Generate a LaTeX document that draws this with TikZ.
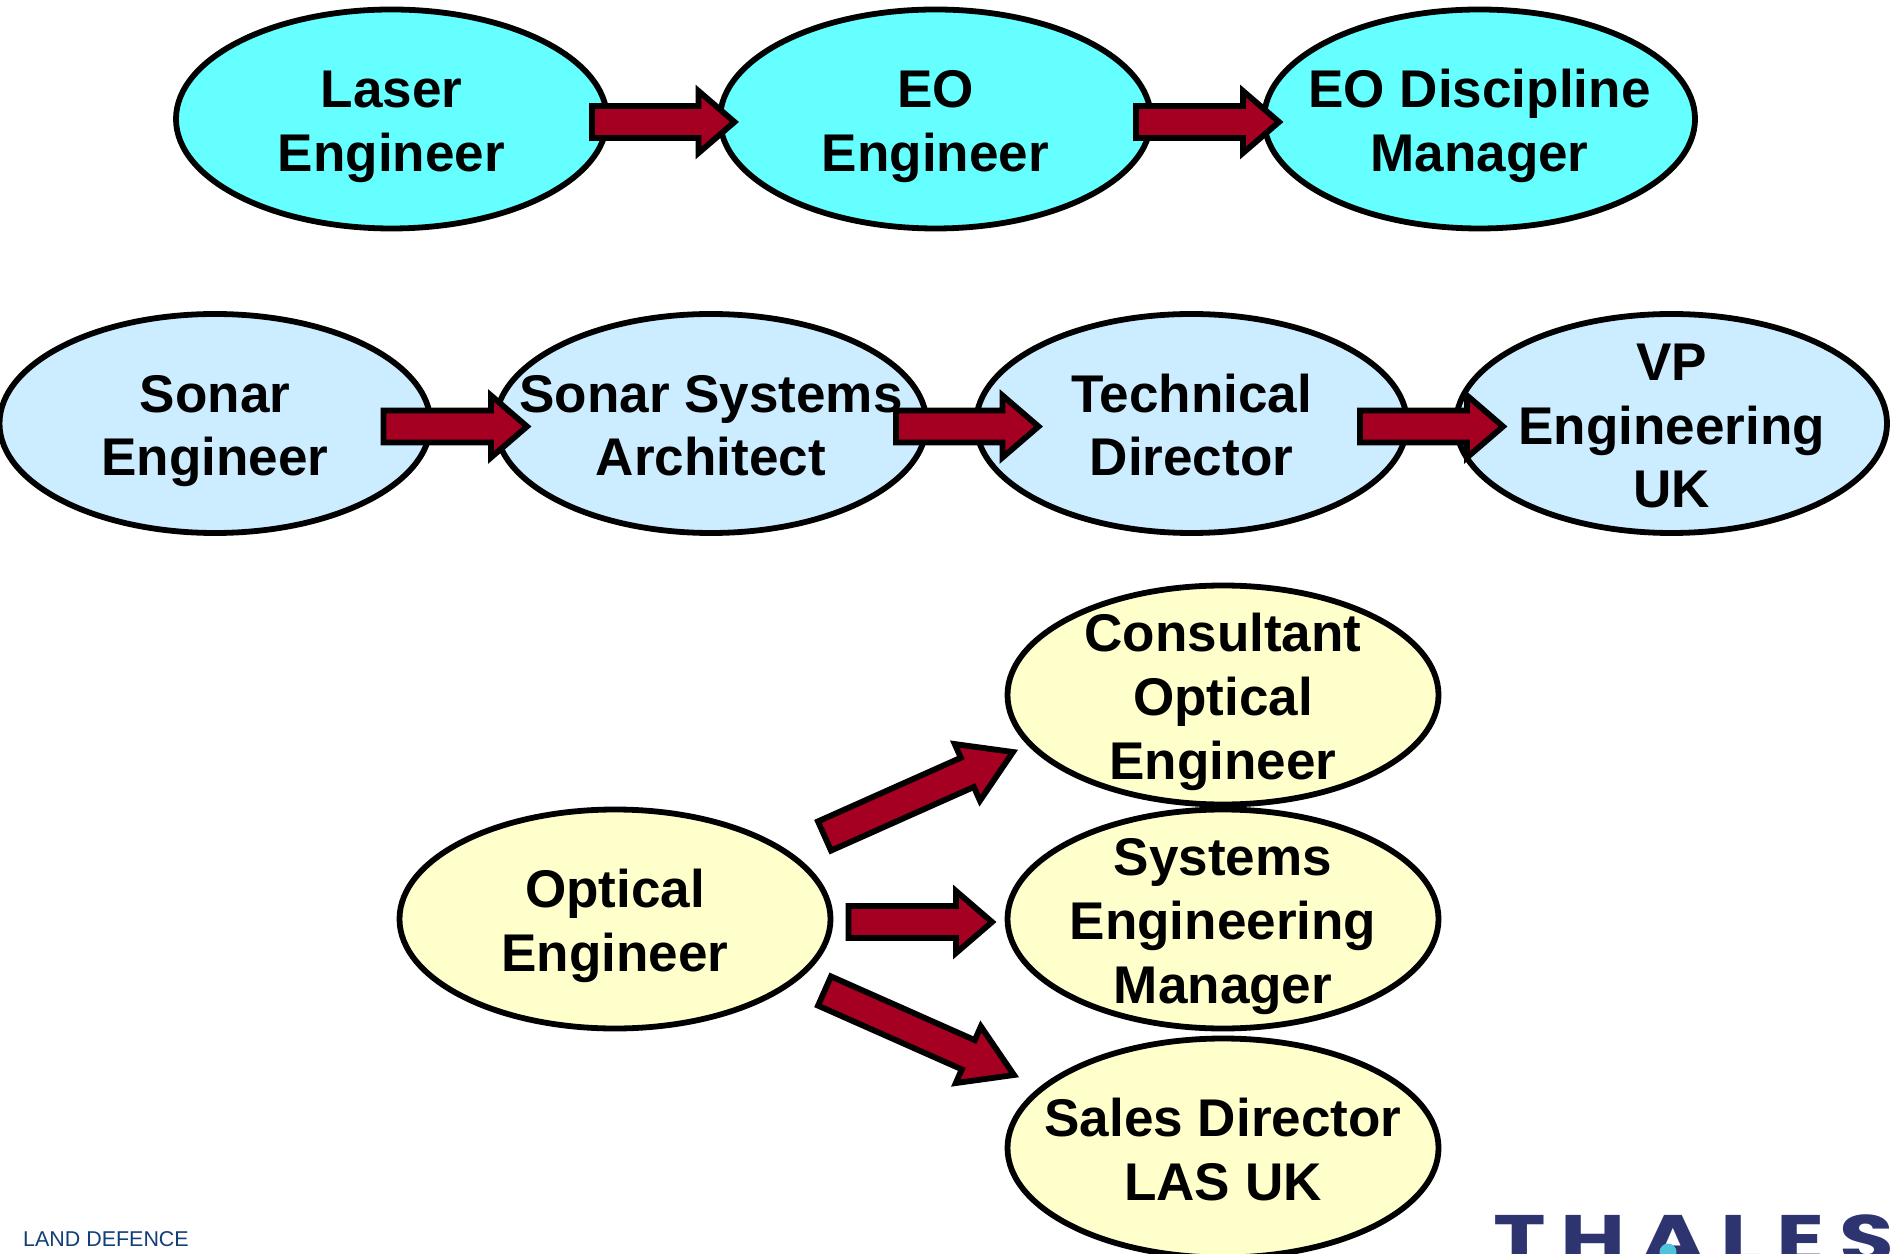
\documentclass[tikz,border=0pt]{standalone}
\usepackage{fontspec}
\setmainfont{Liberation Sans}
\newfontfamily\logofont{Poppins}
\usetikzlibrary{shapes.geometric,calc}
\definecolor{cyanfill}{HTML}{66FFFF}
\definecolor{bluefill}{HTML}{CCECFF}
\definecolor{yellowfill}{HTML}{FFFFCC}
\definecolor{arrowred}{HTML}{A50021}
\definecolor{landblue}{HTML}{123F78}
\definecolor{thalesblue}{HTML}{2E3470}
\definecolor{thalesdot}{HTML}{4FC3D9}
\begin{document}
\begin{tikzpicture}[
    role/.style = {draw, ellipse, line width=.058cm, minimum width=4.31cm, minimum height=2.19cm,
        inner sep=-1.5cm, outer sep=0pt, align=center, font=\bfseries\fontsize{15.1}{18.2}\selectfont,
        text height=#1, text depth=0pt},
    role/.default = 1.05cm,
    blockarrow/.style = {draw, line width=.058cm, fill=arrowred, to path={
        -- ($(\tikztostart)!.16cm!90:(\tikztotarget)$)
        -- ($(\tikztotarget)!#1!(\tikztostart)!.16cm!90:(\tikztotarget)$)
        -- ($(\tikztotarget)!#1!(\tikztostart)!.31cm!90:(\tikztotarget)$)
        -- (\tikztotarget)
        -- ($(\tikztotarget)!#1!(\tikztostart)!.31cm!-90:(\tikztotarget)$)
        -- ($(\tikztotarget)!#1!(\tikztostart)!.16cm!-90:(\tikztotarget)$)
        -- ($(\tikztostart)!.16cm!-90:(\tikztotarget)$)
        -- cycle}},
    blockarrow/.default = .36cm]
        \useasboundingbox (0, 0) rectangle (18.92, -12.54);

        \node[role, fill=cyanfill] (laser) at (3.915, -1.19) {Laser\\Engineer};
        \node[role, fill=cyanfill] (eo) at (9.355, -1.19) {EO\\Engineer};
        \node[role, fill=cyanfill] (eodm) at (14.795, -1.19) {EO Discipline\\Manager};

        \node[role, fill=bluefill] (sonar) at (2.15, -4.235) {Sonar\\Engineer};
        \node[role, fill=bluefill] (sonsys) at (7.11, -4.235) {Sonar Systems\\Architect};
        \node[role, fill=bluefill] (techdir) at (11.915, -4.235) {Technical\\Director};
        \node[role=1.69cm, fill=bluefill] (vp) at (16.715, -4.235) {VP\\Engineering\\UK};

        \node[role, fill=yellowfill] (optical) at (6.15, -9.19) {Optical\\Engineer};
        \node[role=1.69cm, fill=yellowfill] (consult) at (12.23, -6.95) {Consultant\\Optical\\Engineer};
        \node[role=1.69cm, fill=yellowfill] (syseng) at (12.23, -9.19) {Systems\\Engineering\\Manager};
        \node[role, fill=yellowfill] (sales) at (12.23, -11.48) {Sales Director\\LAS UK};

        \draw[blockarrow] ([shift={(-.15, -.03)}]laser.east) to ([shift={(.145, -.03)}]eo.west);
        \draw[blockarrow] ([shift={(-.15, -.03)}]eo.east) to ([shift={(.15, -.03)}]eodm.west);

        \draw[blockarrow] ([shift={(-.47, -.03)}]sonar.east) to ([shift={(.315, -.03)}]sonsys.west);
        \draw[blockarrow] ([shift={(-.305, -.03)}]sonsys.east) to ([shift={(.625, -.03)}]techdir.west);
        \draw[blockarrow] ([shift={(-.47, -.03)}]techdir.east) to ([shift={(.47, -.03)}]vp.west);

        \draw[blockarrow=.5cm] ([shift={(-.06, .83)}]optical.east) to ([shift={(.055, -.57)}]consult.west);
        \draw[blockarrow] ([shift={(.18, -.03)}]optical.east) to ([shift={(-.155, -.03)}]syseng.west);
        \draw[blockarrow=.5cm] ([shift={(-.06, -.72)}]optical.east) to ([shift={(.065, .73)}]sales.west);

        \node (land) at (1.06, -12.39) [text=landblue, inner sep=0pt, font=\fontsize{6.1}{7}\selectfont] {LAND DEFENCE};

        \begin{scope}
            \clip (0, 0) rectangle (18.92, -12.54);
            \node (thales) at (14.93, -12.63) [anchor=base west, inner sep=0pt, xscale=1.3, transform shape, text=thalesblue,
                font=\logofont\addfontfeature{LetterSpace=16}\bfseries\fontsize{19.5}{19.5}\selectfont] {THALES};
            \fill[thalesdot] (16.68, -12.52) circle (.085);
        \end{scope}
    \end{tikzpicture}
\end{document}
